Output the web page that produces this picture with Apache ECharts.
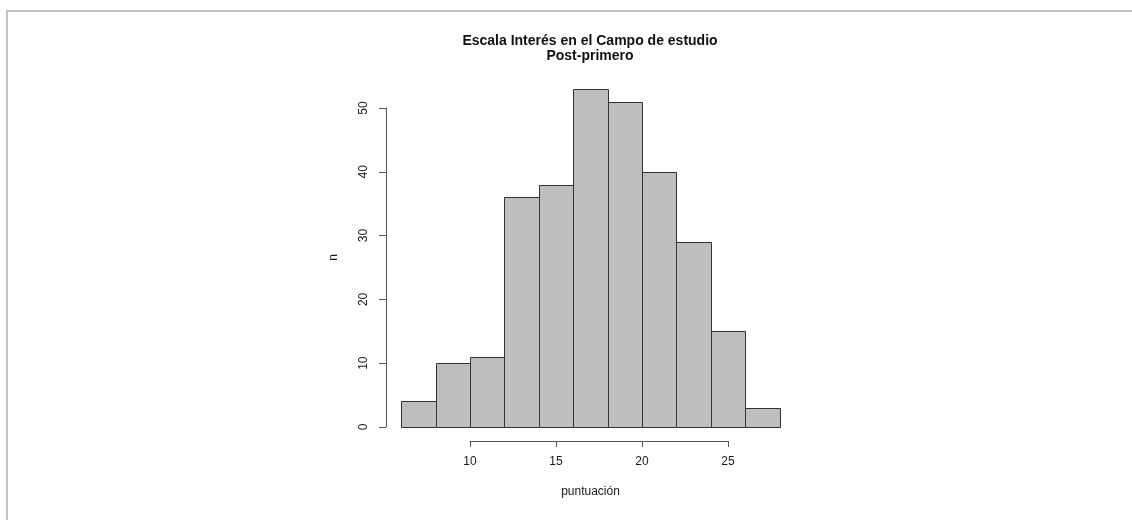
<!DOCTYPE html>
<html>
<head>
<meta charset="utf-8">
<style>
  html, body { margin: 0; padding: 0; background: #ffffff; }
  #wrap { position: relative; width: 1132px; height: 520px; overflow: hidden; }
  #frame { position: absolute; left: 6px; top: 10px; right: 0; bottom: 0;
           border-top: 2px solid #c2c2c2; border-left: 2px solid #c2c2c2; }
  #chart { position: absolute; left: 0; top: 0; width: 1132px; height: 520px; }
</style>
<script src="https://cdn.jsdelivr.net/npm/echarts@6/dist/echarts.min.js"></script>
</head>
<body>
<div id="wrap">
  <div id="frame"></div>
  <div id="chart"></div>
</div>
<script>
// Histogram of the "Interés en el Campo de estudio" scale, post-first measurement
const binEdges = [6, 8, 10, 12, 14, 16, 18, 20, 22, 24, 26, 28];
const counts = [4, 10, 11, 36, 38, 53, 51, 40, 29, 15, 3];
const xTicks = [10, 15, 20, 25];
const yTicks = [0, 10, 20, 30, 40, 50];

const titleText = 'Escala Interés en el Campo de estudio\nPost-primero';
const xName = 'puntuación';
const yName = 'n';

// one row per bin: [left edge, right edge, count]
const bins = counts.map((c, i) => [binEdges[i], binEdges[i + 1], c]);

const font = '"Liberation Sans", Arial, Helvetica, sans-serif';
const axisColor = '#555555';
const textColor = '#1a1a1a';

const chart = echarts.init(document.getElementById('chart'), null, { renderer: 'canvas' });

chart.setOption({
  animation: false,
  backgroundColor: 'transparent',
  title: {
    text: titleText,
    left: 585,
    top: 29,
    textAlign: 'center',
    textStyle: {
      fontFamily: font,
      fontSize: 14,
      fontWeight: 'bold',
      color: '#111111',
      lineHeight: 15
    }
  },
  grid: {
    left: 470,
    width: 258,
    top: 108,
    height: 319,
    containLabel: false
  },
  xAxis: {
    type: 'value',
    min: xTicks[0],
    max: xTicks[xTicks.length - 1],
    interval: 5,
    offset: 14,
    splitLine: { show: false },
    axisLine: { show: true, onZero: false, lineStyle: { color: axisColor, width: 1 } },
    axisTick: { show: true, inside: false, length: 6, lineStyle: { color: axisColor } },
    axisLabel: {
      margin: 15,
      fontFamily: font,
      fontSize: 12,
      color: textColor
    },
    name: xName,
    nameLocation: 'middle',
    nameGap: 45,
    nameTextStyle: {
      fontFamily: font,
      fontSize: 12,
      color: textColor,
      padding: [0, 17, 0, 0]
    }
  },
  yAxis: {
    type: 'value',
    min: yTicks[0],
    max: yTicks[yTicks.length - 1],
    interval: 10,
    offset: 84,
    splitLine: { show: false },
    axisLine: { show: true, lineStyle: { color: axisColor, width: 1 } },
    axisTick: { show: true, inside: false, length: 7, lineStyle: { color: axisColor } },
    axisLabel: {
      rotate: 90,
      margin: 16,
      fontFamily: font,
      fontSize: 12,
      color: textColor
    },
    name: yName,
    nameLocation: 'middle',
    nameGap: 46,
    nameTextStyle: {
      fontFamily: font,
      fontSize: 12,
      color: textColor,
      padding: [0, 0, 0, 20]
    }
  },
  series: [{
    type: 'custom',
    clip: false,
    data: bins,
    encode: { x: [0, 1], y: 2 },
    renderItem: function (params, api) {
      const p0 = api.coord([api.value(0), api.value(2)]);
      const p1 = api.coord([api.value(1), 0]);
      return {
        type: 'rect',
        shape: {
          x: Math.round(p0[0]) + 0.5,
          y: Math.round(p0[1]) + 0.5,
          width: Math.round(p1[0]) - Math.round(p0[0]),
          height: Math.round(p1[1]) - Math.round(p0[1])
        },
        style: {
          fill: '#bebebe',
          stroke: '#333333',
          lineWidth: 1
        }
      };
    }
  }]
});
</script>
</body>
</html>
